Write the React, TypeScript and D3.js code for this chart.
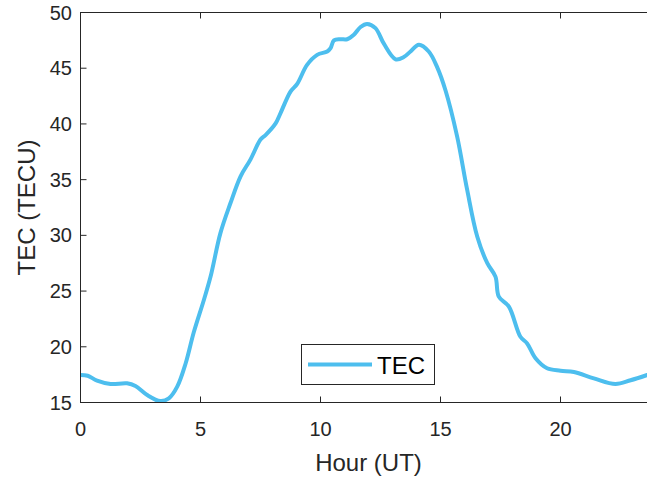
import React from "react";
import * as d3 from "d3";

// TEC over one day
const hours = [
  0, 0.3, 0.69, 1.25, 1.94, 2.29, 2.78, 3.33, 3.68, 4.03, 4.38, 4.72, 5.14,
  5.42, 5.83, 6.25, 6.67, 7.08, 7.5, 7.71, 8.13, 8.33, 8.75, 9.03, 9.44, 9.86,
  10.28, 10.42, 10.56, 10.83, 11.11, 11.39, 11.67, 11.94, 12.29, 12.64,
  13.13, 13.47, 13.75, 14.1, 14.51, 14.86, 15.21, 15.69, 16.11, 16.53, 16.95,
  17.29, 17.43, 17.85, 18.33, 18.61, 18.96, 19.44, 20, 20.56, 21.39, 22.29,
  22.92, 23.61,
];
const tec = [
  17.47, 17.4, 16.96, 16.66, 16.72, 16.48, 15.67, 15.13, 15.37, 16.42, 18.5,
  21.3, 24.2, 26.3, 30.2, 32.9, 35.3, 36.8, 38.6, 39.0, 40.05, 40.95, 42.9,
  43.6, 45.3, 46.2, 46.5, 46.8, 47.5, 47.6, 47.6, 48.0, 48.7, 48.97, 48.6,
  47.2, 45.8, 46.0, 46.5, 47.1, 46.5, 45.1, 43.0, 38.9, 34.1, 29.9, 27.5,
  26.3, 24.5, 23.6, 20.9, 20.3, 18.97, 18.07, 17.85, 17.74, 17.17, 16.66,
  17.0, 17.47,
];
const xTicks = [0, 5, 10, 15, 20];
const yTicks = [15, 20, 25, 30, 35, 40, 45, 50];
const seriesName = "TEC";

const W = 647;
const H = 478;
const left = 80.5;
const right = 656.5;
const top = 12.5;
const bottom = 402.5;
const axisColor = "#262626";
const lineColor = "#4DBEEE";
const font = "'Liberation Sans', Arial, Helvetica, sans-serif";

const App = () => {
  const x = d3.scaleLinear().domain([0, 24]).range([left, right]);
  const y = d3.scaleLinear().domain([15, 50]).range([bottom, top]);

  const points: [number, number][] = hours.map((h, i) => [h, tec[i]]);
  const line = d3
    .line<[number, number]>()
    .x((d) => x(d[0]))
    .y((d) => y(d[1]))
    .curve(d3.curveCatmullRom.alpha(0.5));

  const tickLen = 6;

  return (
    <svg
      width={W}
      height={H}
      style={{ position: "absolute", left: 0, top: 0, background: "#fff" }}
      fontFamily={font}
    >
      <defs>
        <clipPath id="plotClip">
          <rect x={left} y={top - 3} width={right - left} height={bottom - top + 6} />
        </clipPath>
      </defs>

      {/* data line */}
      <path
        d={line(points) || ""}
        fill="none"
        stroke={lineColor}
        strokeWidth={4}
        strokeLinejoin="round"
        strokeLinecap="round"
        clipPath="url(#plotClip)"
      />

      {/* box */}
      <rect
        x={left}
        y={top}
        width={right - left}
        height={bottom - top}
        fill="none"
        stroke={axisColor}
        strokeWidth={1}
      />

      {/* x ticks */}
      {xTicks.map((t) => (
        <g key={"x" + t}>
          <line x1={x(t)} x2={x(t)} y1={bottom} y2={bottom - tickLen} stroke={axisColor} />
          <line x1={x(t)} x2={x(t)} y1={top} y2={top + tickLen} stroke={axisColor} />
          <text
            x={x(t)}
            y={436}
            textAnchor="middle"
            fontSize={20}
            fill={axisColor}
          >
            {t}
          </text>
        </g>
      ))}

      {/* y ticks */}
      {yTicks.map((t) => (
        <g key={"y" + t}>
          <line x1={left} x2={left + tickLen} y1={y(t)} y2={y(t)} stroke={axisColor} />
          <text
            x={72}
            y={y(t)}
            dy="0.35em"
            textAnchor="end"
            fontSize={20}
            fill={axisColor}
          >
            {t}
          </text>
        </g>
      ))}

      {/* axis labels */}
      <text
        x={(left + right) / 2}
        y={471}
        textAnchor="middle"
        fontSize={24}
        fill={axisColor}
      >
        Hour (UT)
      </text>
      <text
        transform={`translate(35, ${(top + bottom) / 2}) rotate(-90)`}
        textAnchor="middle"
        fontSize={24}
        fill={axisColor}
      >
        TEC (TECU)
      </text>

      {/* legend */}
      <g>
        <rect
          x={301.5}
          y={344.5}
          width={133}
          height={40}
          fill="#fff"
          stroke={axisColor}
          strokeWidth={1}
        />
        <line x1={308} x2={372} y1={364.5} y2={364.5} stroke={lineColor} strokeWidth={4} />
        <text x={377} y={373.5} fontSize={24} fill="#000">
          {seriesName}
        </text>
      </g>
    </svg>
  );
};

export default App;
